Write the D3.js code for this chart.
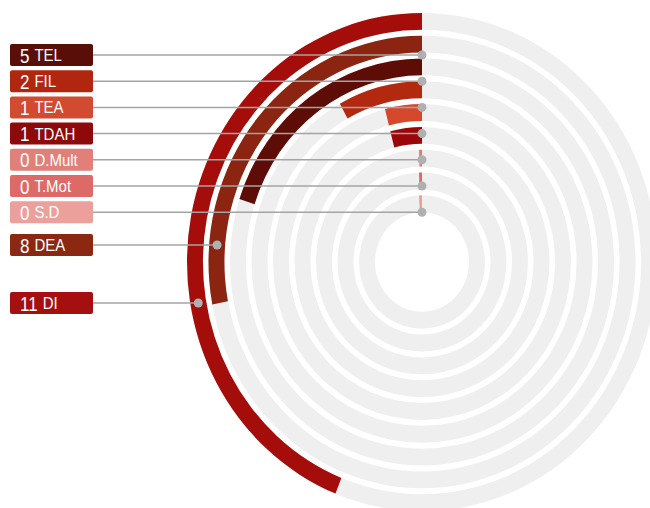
<!DOCTYPE html>
<html>
<head>
<meta charset="utf-8">
<script src="https://cdn.jsdelivr.net/npm/d3@7"></script>
<style>
  body { margin: 0; background: #fff; }
  text { font-family: "Liberation Sans", "DejaVu Sans", sans-serif; fill: #fff; }
</style>
</head>
<body>
<svg id="chart"></svg>
<script>
// rings, from the outside in
var categories = ["DI", "DEA", "TEL", "FIL", "TEA", "TDAH", "D.Mult", "T.Mot", "S.D"];
// numbers printed in the labels
var counts = [11, 8, 5, 2, 1, 1, 0, 0, 0];
// arc length as drawn in the picture (the DEA arc only reaches 7)
var arcValues = [11, 7, 5, 2, 1, 1, 0, 0, 0];
var colors = ["#a50d0b", "#8b2410", "#5e0c06", "#b3290f", "#d6482c", "#9c0608", "#e07b72", "#dc6a68", "#e9a19c"];
var labelColors = ["#a60f0f", "#8a2812", "#5a0e08", "#b0260e", "#d24a30", "#8e0a0a", "#e08078", "#de6a68", "#eca09c"];
// order of the label boxes on the left
var labelOrder = ["TEL", "FIL", "TEA", "TDAH", "D.Mult", "T.Mot", "S.D", "DEA", "DI"];

var width = 650, height = 508;
var cx = 422, cy = 262, sy = 1.06;

var svg = d3.select("#chart").attr("width", width).attr("height", height);

// scales
var angle = d3.scaleLinear().domain([0, 25]).range([0, 2 * Math.PI]);
var radius = d3.scaleBand()
  .domain(categories.slice().reverse())
  .range([47, 235])
  .paddingInner(0.26);
var bw = radius.bandwidth();

var arc = d3.arc()
  .innerRadius(function(d) { return radius(d.cat); })
  .outerRadius(function(d) { return radius(d.cat) + bw; })
  .startAngle(0)
  .endAngle(function(d) { return d.end; });

var rings = svg.append("g")
  .attr("transform", "translate(" + cx + "," + cy + ") scale(1," + sy + ")");

// grey background rings
rings.selectAll(".bg")
  .data(categories)
  .enter().append("path")
  .attr("class", "bg")
  .attr("fill", "#efefef")
  .attr("d", function(c) { return arc({ cat: c, end: 2 * Math.PI }); });

function arcAngle(i) {
  var r = radius(categories[i]) + bw;
  return Math.max(angle(arcValues[i]), 3 / r);
}

// value arcs, running counter-clockwise from the top
rings.selectAll(".bar")
  .data(categories)
  .enter().append("path")
  .attr("class", "bar")
  .attr("fill", function(c, i) { return colors[i]; })
  .attr("d", function(c, i) { return arc({ cat: c, end: -arcAngle(i) }); });

// labels
var labelY = {};
labelOrder.forEach(function(c, i) {
  labelY[c] = i < 7 ? 55 + i * 26.2 : (c === "DEA" ? 245 : 303);
});

function dotPos(c) {
  var i = categories.indexOf(c);
  var m = radius(c) + bw / 2;
  var y = labelY[c];
  var dy = (y - cy) / sy;
  if (Math.abs(dy) < m) {
    var dx = -Math.sqrt(m * m - dy * dy);
    var th = Math.atan2(-dx, -dy);
    if (th > 0 && th <= arcAngle(i)) return [cx + dx, y];
  }
  return [cx, y];
}

var boxX = 10, boxW = 83, boxH = 22;

var labels = svg.selectAll(".label")
  .data(labelOrder)
  .enter().append("g")
  .attr("class", "label");

labels.append("line")
  .attr("x1", boxX + boxW)
  .attr("x2", function(c) { return dotPos(c)[0]; })
  .attr("y1", function(c) { return labelY[c]; })
  .attr("y2", function(c) { return labelY[c]; })
  .attr("stroke", "#a4a4a4")
  .attr("stroke-width", 1.5);

labels.append("circle")
  .attr("cx", function(c) { return dotPos(c)[0]; })
  .attr("cy", function(c) { return labelY[c]; })
  .attr("r", 4.5)
  .attr("fill", "#aeb0b2");

labels.append("rect")
  .attr("x", boxX)
  .attr("y", function(c) { return labelY[c] - boxH / 2; })
  .attr("width", boxW)
  .attr("height", boxH)
  .attr("rx", 2)
  .attr("fill", function(c) { return labelColors[categories.indexOf(c)]; });

labels.each(function(c) {
  var g = d3.select(this);
  var y = labelY[c];
  var num = g.append("text")
    .attr("transform", "translate(20," + (y + 7.5) + ") scale(1,1.2)")
    .style("font-size", "17px")
    .text(counts[categories.indexOf(c)]);
  var w = num.node().getComputedTextLength();
  g.append("text")
    .attr("transform", "translate(" + (20 + w + 5) + "," + (y + 6) + ") scale(1,1.1)")
    .style("font-size", "15px")
    .text(c);
});
</script>
</body>
</html>
